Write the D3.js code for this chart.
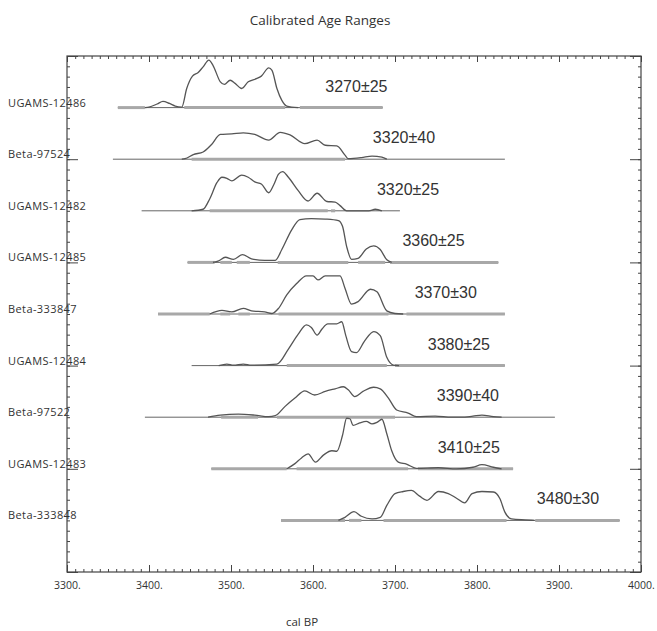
<!DOCTYPE html>
<html>
<head>
<meta charset="utf-8">
<script src="https://cdn.jsdelivr.net/npm/d3@7"></script>
<style>
  body { margin: 0; background: #fff; }
  text { fill: #333; }
</style>
</head>
<body>
<div id="chart"></div>
<script>
// sample names, top to bottom
var samples = ["UGAMS-12486", "Beta-97524", "UGAMS-12482", "UGAMS-12485", "Beta-333847",
               "UGAMS-12484", "Beta-97522", "UGAMS-12483", "Beta-333848"];
// radiocarbon ages shown next to each curve
var ages = ["3270±25", "3320±40", "3320±25", "3360±25", "3370±30",
            "3380±25", "3390±40", "3410±25", "3480±30"];
// cal BP where the age label starts
var ageLabelAt = [3615, 3673, 3678, 3709, 3724, 3740, 3751, 3752, 3873];

// full range of each thin base line
var baseRange = [[3362, 3685], [3356, 3834], [3391, 3706], [3447, 3826], [3411, 3834],
                 [3452, 3834], [3395, 3895], [3476, 3844], [3561, 3974]];

// grey range bars
var rangeBars = [
    [[3362, 3395], [3443, 3566], [3584, 3685]],
    [[3452, 3639]],
    [[3474, 3618], [3622, 3627]],
    [[3447, 3480], [3487, 3501], [3507, 3523], [3557, 3643], [3655, 3688], [3694, 3826]],
    [[3411, 3474], [3487, 3499], [3509, 3523], [3558, 3692], [3714, 3834]],
    [[3568, 3690], [3700, 3834]],
    [[3488, 3533], [3556, 3700]],
    [[3476, 3568], [3580, 3716], [3728, 3844]],
    [[3561, 3639], [3644, 3659], [3686, 3836], [3871, 3974]]
];

// probability curves [cal BP, relative probability]
var curves = [
    [[3395,0],[3400,0.01],[3410,0.07],[3417,0.12],[3425,0.08],[3432,0.03],[3440,0.01],[3446,0.37],[3453,0.61],
     [3460,0.68],[3466,0.79],[3473,0.92],[3478,0.82],[3487,0.50],[3492,0.45],[3499,0.53],[3505,0.47],[3513,0.37],
     [3521,0.50],[3531,0.56],[3537,0.61],[3546,0.77],[3550,0.72],[3556,0.37],[3562,0.14],[3568,0.03],[3582,0]],
    [[3440,0],[3444,0.01],[3454,0.09],[3466,0.14],[3476,0.28],[3487,0.48],[3501,0.49],[3515,0.51],[3529,0.48],
     [3546,0.37],[3560,0.52],[3572,0.47],[3590,0.30],[3605,0.37],[3615,0.27],[3629,0.26],[3639,0.08],[3643,0.01],
     [3659,0.03],[3672,0.06],[3684,0.04],[3690,0]],
    [[3452,0],[3466,0.03],[3474,0.23],[3483,0.55],[3489,0.65],[3495,0.63],[3501,0.58],[3513,0.69],[3521,0.65],
     [3529,0.56],[3537,0.52],[3546,0.35],[3552,0.50],[3558,0.71],[3563,0.76],[3570,0.65],[3582,0.39],[3594,0.19],
     [3605,0.34],[3617,0.18],[3627,0.17],[3633,0.10],[3641,0],[3668,0],[3676,0.03],[3684,0]],
    [[3478,0],[3485,0.03],[3493,0.10],[3503,0.06],[3514,0.15],[3525,0.07],[3541,0.04],[3554,0.04],[3562,0.25],
     [3574,0.63],[3584,0.83],[3598,0.85],[3615,0.84],[3631,0.81],[3636,0.70],[3641,0.31],[3647,0.06],[3655,0.08],
     [3665,0.26],[3674,0.32],[3682,0.25],[3690,0.05],[3696,0]],
    [[3474,0],[3489,0.07],[3501,0.04],[3515,0.11],[3525,0.06],[3541,0.04],[3550,0.01],[3558,0.11],[3568,0.37],
     [3580,0.59],[3592,0.74],[3600,0.74],[3606,0.66],[3615,0.74],[3633,0.74],[3639,0.50],[3647,0.19],[3655,0.24],
     [3670,0.48],[3678,0.43],[3690,0.06],[3700,0.01],[3710,0]],
    [[3485,0],[3495,0.03],[3503,0.01],[3515,0.03],[3525,0.01],[3556,0.03],[3570,0.32],[3582,0.61],[3592,0.79],
     [3598,0.74],[3605,0.59],[3611,0.71],[3618,0.81],[3629,0.81],[3635,0.85],[3640,0.58],[3647,0.27],[3653,0.25],
     [3663,0.48],[3674,0.66],[3682,0.58],[3690,0.16],[3698,0.01],[3705,0]],
    [[3472,0],[3487,0.04],[3509,0.06],[3529,0.04],[3546,0.01],[3554,0.03],[3566,0.21],[3578,0.37],[3590,0.51],
     [3602,0.43],[3615,0.50],[3627,0.55],[3637,0.59],[3643,0.53],[3651,0.40],[3661,0.50],[3674,0.58],[3682,0.55],
     [3692,0.37],[3702,0.14],[3716,0.08],[3726,0.01],[3749,0.02],[3769,0],[3781,0],[3795,0.02],[3806,0.04],
     [3820,0.01],[3830,0]],
    [[3568,0],[3578,0.10],[3586,0.21],[3594,0.29],[3603,0.13],[3613,0.27],[3623,0.35],[3629,0.34],[3636,0.65],
     [3641,0.98],[3645,0.97],[3649,0.84],[3657,0.89],[3665,0.92],[3672,0.87],[3678,0.90],[3684,0.96],[3690,0.68],
     [3696,0.35],[3704,0.13],[3714,0.09],[3726,0.01],[3753,0.02],[3775,0],[3795,0.03],[3806,0.08],[3820,0.03],
     [3830,0]],
    [[3631,0],[3639,0.06],[3650,0.17],[3659,0.08],[3672,0.03],[3682,0.06],[3690,0.29],[3700,0.52],[3710,0.56],
     [3720,0.58],[3730,0.47],[3739,0.39],[3753,0.56],[3765,0.52],[3775,0.43],[3785,0.34],[3794,0.52],[3806,0.56],
     [3820,0.55],[3828,0.42],[3834,0.16],[3842,0.03],[3859,0.01],[3870,0]]
];

var width = 657, height = 631;
// plot frame (window.top is reserved, so keep these in an object)
var frame = {left: 67, right: 641, top: 56, bottom: 572};

var svg = d3.select("#chart").append("svg")
    .attr("width", width)
    .attr("height", height)
    .style("font-family", "'Open Sans', 'Noto Sans', sans-serif");

var x = d3.scaleLinear().domain([3300, 4000]).range([frame.left, frame.right]);
// rows sit at 1..9, frame runs 0..10
var y = d3.scaleLinear().domain([0, 10]).range([frame.top, frame.bottom]);

// ticks: major every 100 / 2 rows, minor every 10 / 0.2 rows
var major = d3.range(3300, 4001, 100);
var minor = d3.range(3300, 4001, 10);
var yMajor = d3.range(0, 10.01, 2);
var yMinor = d3.range(0, 10.01, 0.2);

function addAxis(axis, tx, ty) {
    var g = svg.append("g").attr("transform", "translate(" + tx + "," + ty + ")").call(axis);
    g.attr("font-family", null).attr("font-size", null);
    g.select(".domain").remove();
    g.selectAll("line").attr("stroke", "#444");
    return g;
}

addAxis(d3.axisBottom(x).tickValues(minor).tickSizeInner(-3).tickSizeOuter(0).tickFormat(""), 0, frame.bottom);
var xb = addAxis(d3.axisBottom(x).tickValues(major).tickSizeInner(-7).tickSizeOuter(0)
    .tickPadding(10).tickFormat(function(d) { return d + "."; }), 0, frame.bottom);
xb.selectAll("text").attr("font-size", "10.5px").attr("fill", "#333");

addAxis(d3.axisTop(x).tickValues(minor).tickSizeInner(-3).tickSizeOuter(0).tickFormat(""), 0, frame.top);
addAxis(d3.axisTop(x).tickValues(major).tickSizeInner(-6).tickSizeOuter(0).tickFormat(""), 0, frame.top);

addAxis(d3.axisLeft(y).tickValues(yMinor).tickSizeInner(-3).tickSizeOuter(0).tickFormat(""), frame.left, 0);
addAxis(d3.axisLeft(y).tickValues(yMajor).tickSizeInner(-11).tickSizeOuter(0).tickFormat(""), frame.left, 0);
addAxis(d3.axisRight(y).tickValues(yMinor).tickSizeInner(-3).tickSizeOuter(0).tickFormat(""), frame.right, 0);
addAxis(d3.axisRight(y).tickValues(yMajor).tickSizeInner(-11).tickSizeOuter(0).tickFormat(""), frame.right, 0);

// frame
svg.append("rect")
    .attr("x", frame.left).attr("y", frame.top)
    .attr("width", frame.right - frame.left).attr("height", frame.bottom - frame.top)
    .attr("fill", "none").attr("stroke", "#444").attr("stroke-width", 1.2);

// slightly smoothed polyline like the original plot
var line = d3.line()
    .x(function(d) { return x(d[0]); })
    .curve(d3.curveMonotoneX);

samples.forEach(function(name, i) {
    var row = i + 1;
    var g = svg.append("g");

    // thin base line
    g.append("line")
        .attr("x1", x(baseRange[i][0])).attr("x2", x(baseRange[i][1]))
        .attr("y1", y(row)).attr("y2", y(row))
        .attr("stroke", "#666").attr("stroke-width", 1);

    // grey range bars
    g.selectAll("line.bar")
        .data(rangeBars[i])
        .enter().append("line")
        .attr("class", "bar")
        .attr("x1", function(d) { return x(d[0]); })
        .attr("x2", function(d) { return x(d[1]); })
        .attr("y1", y(row)).attr("y2", y(row))
        .attr("stroke", "#a8a8a8").attr("stroke-width", 3);

    // probability curve
    g.append("path")
        .datum(curves[i])
        .attr("d", line.y(function(d) { return y(row - d[1]); }))
        .attr("fill", "none")
        .attr("stroke", "#555")
        .attr("stroke-width", 1.3)
        .attr("stroke-linejoin", "round");

    // sample name on the left
    svg.append("text")
        .attr("x", 8).attr("y", y(row) - 1)
        .attr("font-size", "11px")
        .attr("letter-spacing", "0.4px")
        .text(name);

    // age label
    svg.append("text")
        .attr("x", x(ageLabelAt[i])).attr("y", y(row) - 16)
        .attr("font-family", "'Liberation Sans', Arial, sans-serif")
        .attr("font-size", "16px")
        .text(ages[i]);
});

// title and axis label
svg.append("text")
    .attr("x", 320).attr("y", 25)
    .attr("text-anchor", "middle")
    .attr("font-size", "13.5px")
    .text("Calibrated Age Ranges");

svg.append("text")
    .attr("x", 302).attr("y", 626)
    .attr("text-anchor", "middle")
    .attr("font-size", "11.5px")
    .text("cal BP");
</script>
</body>
</html>
